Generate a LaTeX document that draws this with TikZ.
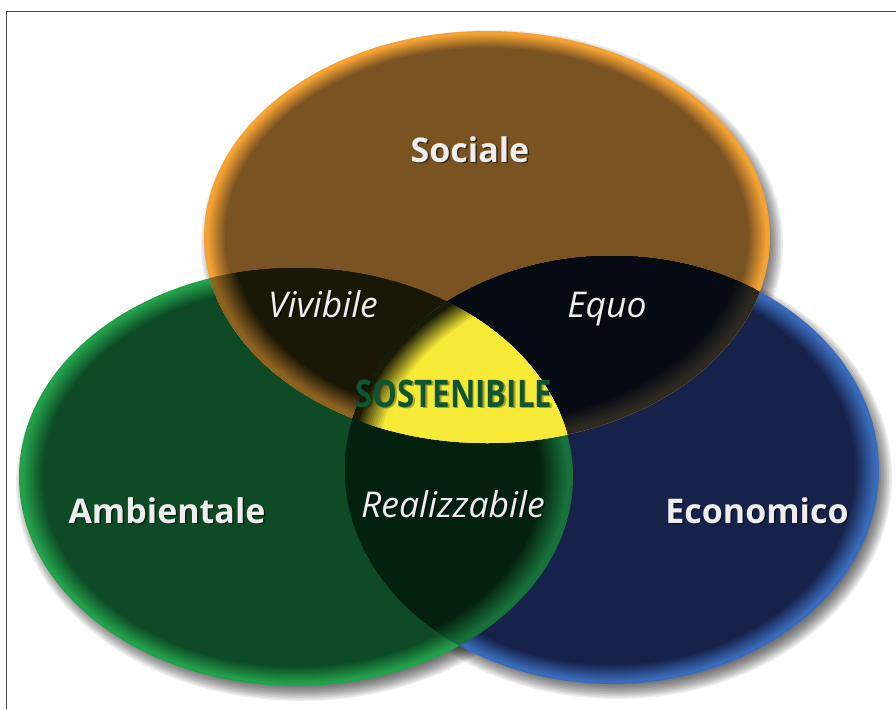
\documentclass[tikz,border=0pt]{standalone}
\usepackage{fontspec}
\setmainfont{Open Sans}

% circle colours: bright rim and darker body
\definecolor{socRim}{HTML}{F4A233}
\definecolor{socFill}{HTML}{7A5323}
\definecolor{ambRim}{HTML}{23A04C}
\definecolor{ambFill}{HTML}{0D4A25}
\definecolor{ecoRim}{HTML}{3A6BBA}
\definecolor{ecoFill}{HTML}{16224A}
% overlaps
\definecolor{viviRim}{HTML}{8C6222}
\definecolor{viviFill}{HTML}{1B1706}
\definecolor{equoRim}{HTML}{2E2A22}
\definecolor{equoFill}{HTML}{050A13}
\definecolor{realRim}{HTML}{18703A}
\definecolor{realFill}{HTML}{04210F}
\definecolor{sostEdge}{HTML}{1A1A06}
\definecolor{sostFill}{HTML}{F6EA36}
\definecolor{sostText}{HTML}{0E5533}
\definecolor{labelWhite}{HTML}{EEEEEE}
\definecolor{frameGray}{HTML}{4A4A4A}

% ellipse geometry (centre x, centre y, x radius, y radius)
\def\Sx{487}\def\Sy{237}\def\Sa{283}\def\Sb{206}
\def\Ax{296}\def\Ay{477}\def\Aa{277}\def\Ab{209}
\def\Ex{612}\def\Ey{470}\def\Ea{267}\def\Eb{214}

% concentric ellipses fading from an outer colour to an inner one
% #1 cx, #2 cy, #3 rx, #4 ry, #5 outer colour, #6 inner colour, #7 steps, #8 step
\newcommand\rimstack[8]{%
  \foreach \k in {0,...,#7}{%
    \pgfmathsetmacro\ra{#3-1.25*#8*\k}%
    \pgfmathsetmacro\rb{#4-#8*\k}%
    \pgfmathtruncatemacro\p{min(100,max(0,100-100*(\k-2)/(#7-2)))}%
    \fill[fill={#5!\p!#6}] (#1,#2) ellipse [x radius=\ra pt, y radius=\rb pt];
  }}

% soft drop shadow below and right of an ellipse
\newcommand\softshadow[4]{%
  \foreach \k in {0,...,9}{%
    \pgfmathsetmacro\ra{#3+8-1.6*\k}%
    \pgfmathsetmacro\rb{#4+8-1.6*\k}%
    \fill[black,opacity=0.07] (#1+5,#2+7) ellipse [x radius=\ra pt, y radius=\rb pt];
  }}

\tikzset{
  mainlab/.style={font=\fontsize{34}{36}\selectfont\bfseries, text=labelWhite, anchor=base, inner sep=0pt},
  sublab/.style={font=\fontsize{35.5}{38}\selectfont\itshape, text=labelWhite, anchor=base, inner sep=0pt},
  labshadow/.style={text=black, text opacity=0.55},
  centrelab/.style={font=\fontsize{38}{40}\selectfont\bfseries, text=sostText, anchor=base, inner sep=0pt},
}

\begin{document}
\begin{tikzpicture}[x=1pt,y=-1pt]
\useasboundingbox (0,0) rectangle (896,709);
\fill[white] (0,0) rectangle (896,709);

% frame
\draw[frameGray, line width=1.5pt] (6.5,709) -- (6.5,11.5) -- (896,11.5);

% shadows
\softshadow{\Ax}{\Ay}{\Aa}{\Ab}
\softshadow{\Ex}{\Ey}{\Ea}{\Eb}
\softshadow{\Sx}{\Sy}{\Sa}{\Sb}

% the three circles
\rimstack{\Ax}{\Ay}{\Aa}{\Ab}{ambRim}{ambFill}{16}{1.2}
\rimstack{\Ex}{\Ey}{\Ea}{\Eb}{ecoRim}{ecoFill}{16}{1.2}
\rimstack{\Sx}{\Sy}{\Sa}{\Sb}{socRim}{socFill}{14}{1.2}

% Sociale & Ambientale
\begin{scope}
  \clip (\Ax,\Ay) ellipse [x radius=\Aa pt, y radius=\Ab pt];
  \rimstack{\Sx}{\Sy}{\Sa}{\Sb}{viviRim}{viviFill}{14}{1.6}
\end{scope}
% Sociale & Economico
\begin{scope}
  \clip (\Ex,\Ey) ellipse [x radius=\Ea pt, y radius=\Eb pt];
  \rimstack{\Sx}{\Sy}{\Sa}{\Sb}{equoRim}{equoFill}{14}{1.6}
\end{scope}
% Ambientale & Economico
\begin{scope}
  \clip (\Ex,\Ey) ellipse [x radius=\Ea pt, y radius=\Eb pt];
  \rimstack{\Ax}{\Ay}{\Aa}{\Ab}{realRim}{realFill}{14}{1.8}
\end{scope}
% all three
\begin{scope}
  \clip (\Sx,\Sy) ellipse [x radius=\Sa pt, y radius=\Sb pt];
  \clip (\Ax,\Ay) ellipse [x radius=\Aa pt, y radius=\Ab pt];
  \rimstack{\Ex}{\Ey}{\Ea}{\Eb}{sostEdge}{sostFill}{14}{1.8}
\end{scope}

% labels
\node[mainlab, labshadow] (socialeSh) at (471.5,163.5) {Sociale};
\node[mainlab] (sociale) at (470,162) {Sociale};
\node[mainlab, labshadow] (ambientaleSh) at (168.5,524.5) {Ambientale};
\node[mainlab] (ambientale) at (167,523) {Ambientale};
\node[mainlab, labshadow] (economicoSh) at (758.5,524.5) {Economico};
\node[mainlab] (economico) at (757,523) {Economico};

\node[sublab, labshadow] (vivibileSh) at (324.5,318.5) {Vivibile};
\node[sublab] (vivibile) at (323,317) {Vivibile};
\node[sublab, labshadow] (equoSh) at (608.5,318.5) {Equo};
\node[sublab] (equo) at (607,317) {Equo};
\node[sublab, labshadow] (realizzabileSh) at (454.5,518.5) {Realizzabile};
\node[sublab] (realizzabile) at (453,517) {Realizzabile};

\node[centrelab, text=black, text opacity=0.3] (sostenibileSh) at (455.5,408.5) {\scalebox{0.82}[1]{SOSTENIBILE}};
\node[centrelab] (sostenibile) at (454,407) {\scalebox{0.82}[1]{SOSTENIBILE}};
\end{tikzpicture}
\end{document}
